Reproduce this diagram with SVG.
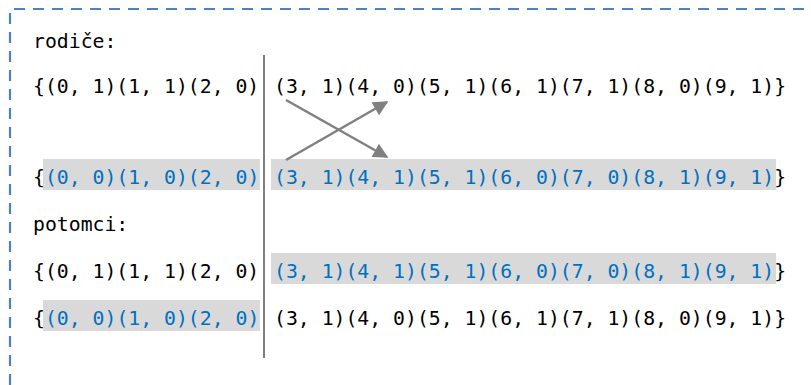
<svg xmlns="http://www.w3.org/2000/svg" width="811" height="385" viewBox="0 0 811 385">
  <style>
    .frame { fill: none; stroke: #4f81bd; stroke-width: 2.2; stroke-dasharray: 11 8; }
    .t { font-family: "DejaVu Sans Mono", "Liberation Mono", monospace; font-size: 19.8px; fill: #000; }
    .b { fill: #0070c0; }
    .hl { fill: #d9d9d9; }
    .cut { stroke: #808080; stroke-width: 2; }
    .arr { stroke: #808080; stroke-width: 2.5; fill: none; marker-end: url(#head); }
  </style>
  <defs>
    <marker id="head" viewBox="0 0 10 10" refX="9" refY="5" markerWidth="6.5" markerHeight="6" orient="auto" markerUnits="strokeWidth">
      <path d="M0,0 L10,5 L0,10 z" fill="#808080"/>
    </marker>
  </defs>
  <rect width="811" height="385" fill="#fff"/>

  <!-- dashed frame: top and left edges -->
  <path class="frame" d="M10,385 L10,9 L811,9"/>

  <!-- highlight backgrounds -->
  <rect class="hl" x="43" y="159" width="217" height="31"/>
  <rect class="hl" x="271" y="159" width="505" height="31"/>
  <rect class="hl" x="271" y="253" width="505" height="31"/>
  <rect class="hl" x="43" y="300" width="217" height="31"/>

  <g id="label-rodice">
    <text class="t" x="33" y="48">rodiče:</text>
  </g>

  <g id="parent-1">
    <text class="t" x="33" y="93">{(0, 1)(1, 1)(2, 0)</text>
    <text class="t" x="274" y="93">(3, 1)(4, 0)(5, 1)(6, 1)(7, 1)(8, 0)(9, 1)}</text>
  </g>

  <g id="parent-2">
    <text class="t" x="33" y="184">{<tspan class="b">(0, 0)(1, 0)(2, 0)</tspan></text>
    <text class="t" x="274" y="184"><tspan class="b">(3, 1)(4, 1)(5, 1)(6, 0)(7, 0)(8, 1)(9, 1)</tspan>}</text>
  </g>

  <g id="label-potomci">
    <text class="t" x="33" y="231">potomci:</text>
  </g>

  <g id="child-1">
    <text class="t" x="33" y="278">{(0, 1)(1, 1)(2, 0)</text>
    <text class="t" x="274" y="278"><tspan class="b">(3, 1)(4, 1)(5, 1)(6, 0)(7, 0)(8, 1)(9, 1)</tspan>}</text>
  </g>

  <g id="child-2">
    <text class="t" x="33" y="325">{<tspan class="b">(0, 0)(1, 0)(2, 0)</tspan></text>
    <text class="t" x="274" y="325">(3, 1)(4, 0)(5, 1)(6, 1)(7, 1)(8, 0)(9, 1)}</text>
  </g>

  <g id="connectors">
    <!-- crossover point -->
    <line class="cut" x1="264" y1="55" x2="264" y2="358"/>
    <!-- swapped tails -->
    <line class="arr" x1="286" y1="100" x2="387" y2="157"/>
    <line class="arr" x1="286" y1="160" x2="387" y2="102"/>
  </g>
</svg>
